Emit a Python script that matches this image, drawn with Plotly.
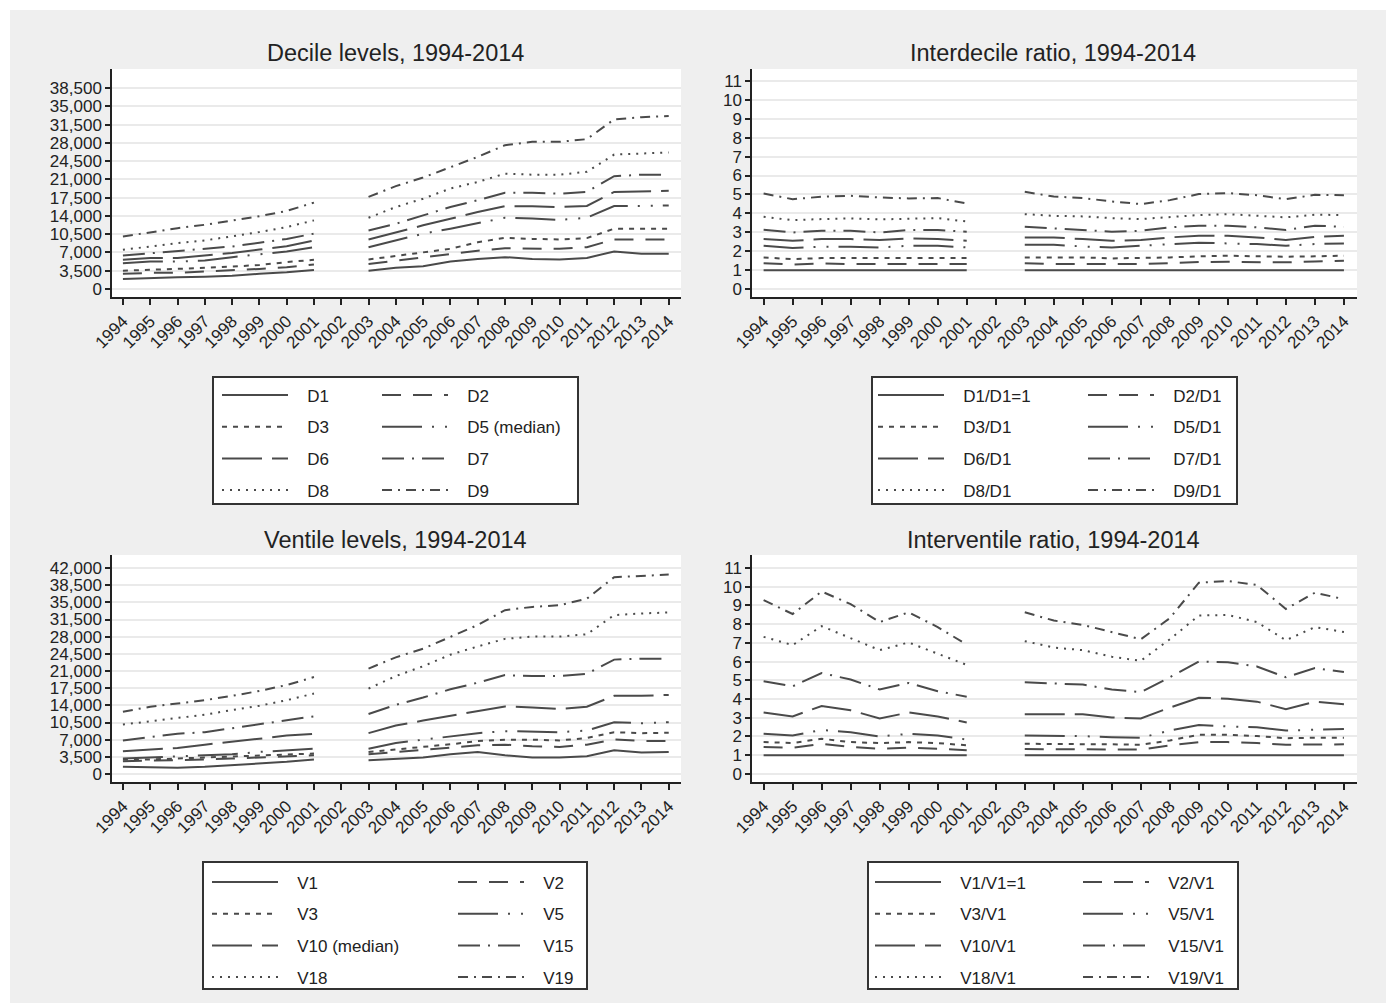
import plotly.graph_objects as go

W, H = 1391, 1003

years = list(range(1994, 2015))

# ---- Decile levels (None = 2002, no data) ----
D1 = [1900, 2100, 2250, 2350, 2550, 2900, 3200, 3650, None, 3500, 4050, 4350, 5250, 5750, 6100, 5750, 5650, 5950, 7200, 6750, 6750]
D2 = [2900, 3100, 3100, 3350, 3500, 3850, 4150, 4700, None, 4800, 5450, 6100, 6750, 7350, 7800, 7800, 7700, 8000, 9500, 9500, 9500]
D3 = [3500, 3650, 3800, 4050, 4300, 4600, 5150, 5600, None, 5650, 6300, 7050, 7700, 8950, 9800, 9600, 9500, 9750, 11550, 11550, 11550]
D5 = [4950, 5250, 5250, 5450, 6100, 6600, 7200, 8000, None, 8000, 9300, 10600, 11550, 12650, 13650, 13500, 13250, 13650, 15900, 15900, 16000]
D6 = [5600, 5950, 5950, 6400, 6900, 7550, 8200, 9300, None, 9500, 10900, 12200, 13450, 14750, 15850, 15850, 15700, 15900, 18600, 18700, 18800]
D7 = [6400, 6850, 7250, 7650, 8150, 8850, 9600, 10600, None, 11200, 12500, 14100, 15700, 17000, 18450, 18450, 18250, 18600, 21600, 21900, 21900]
D8 = [7500, 8150, 8800, 9300, 10050, 10900, 11850, 13150, None, 13650, 15700, 17300, 19250, 20500, 22100, 21900, 21900, 22450, 25750, 25950, 26150]
D9 = [10050, 10900, 11650, 12300, 13100, 13950, 14950, 16550, None, 17650, 19700, 21350, 23250, 25300, 27550, 28200, 28200, 28700, 32500, 32900, 33150]

# ---- Interdecile ratios ----
R1 = [1, 1, 1, 1, 1, 1, 1, 1, None, 1, 1, 1, 1, 1, 1, 1, 1, 1, 1, 1, 1]
R2 = [1.37, 1.29, 1.36, 1.32, 1.32, 1.32, 1.32, 1.32, None, 1.37, 1.32, 1.32, 1.32, 1.32, 1.37, 1.43, 1.44, 1.43, 1.41, 1.46, 1.50]
R3 = [1.67, 1.58, 1.64, 1.64, 1.62, 1.62, 1.64, 1.64, None, 1.67, 1.67, 1.67, 1.62, 1.64, 1.67, 1.73, 1.76, 1.73, 1.71, 1.73, 1.76]
R5 = [2.29, 2.17, 2.24, 2.24, 2.20, 2.29, 2.29, 2.20, None, 2.34, 2.34, 2.25, 2.20, 2.29, 2.38, 2.45, 2.41, 2.38, 2.29, 2.38, 2.41]
R6 = [2.64, 2.55, 2.64, 2.64, 2.59, 2.68, 2.64, 2.55, None, 2.73, 2.73, 2.64, 2.55, 2.59, 2.73, 2.82, 2.82, 2.73, 2.59, 2.76, 2.82]
R7 = [3.13, 2.99, 3.08, 3.08, 2.99, 3.12, 3.12, 3.03, None, 3.29, 3.20, 3.12, 3.03, 3.08, 3.26, 3.35, 3.35, 3.26, 3.12, 3.35, 3.29]
R8 = [3.82, 3.64, 3.70, 3.73, 3.68, 3.73, 3.75, 3.57, None, 3.96, 3.87, 3.84, 3.75, 3.70, 3.79, 3.91, 3.96, 3.87, 3.79, 3.93, 3.91]
R9 = [5.05, 4.75, 4.88, 4.93, 4.84, 4.79, 4.81, 4.52, None, 5.14, 4.89, 4.81, 4.63, 4.49, 4.70, 5.02, 5.07, 4.96, 4.75, 4.98, 4.96]

# ---- Ventile levels ----
V1 = [1480, 1340, 1280, 1480, 1810, 2150, 2490, 2960, None, 2820, 3160, 3360, 4030, 4500, 3830, 3360, 3360, 3630, 4840, 4370, 4500]
V2 = [2620, 2690, 2820, 2960, 3160, 3360, 3490, 3830, None, 4030, 4500, 4970, 5380, 5850, 5980, 5650, 5510, 5980, 7060, 6720, 6720]
V3 = [2960, 2960, 3160, 3360, 3490, 3630, 3830, 4170, None, 4500, 4970, 5510, 6050, 6720, 6990, 6990, 6850, 7330, 8530, 8330, 8400]
V5 = [3160, 3360, 3490, 3830, 4030, 4500, 4840, 5170, None, 5170, 6320, 6990, 7660, 8330, 8740, 8670, 8530, 8870, 10550, 10350, 10550]
V10 = [4640, 4970, 5310, 5980, 6520, 7190, 7860, 8200, None, 8330, 9880, 10890, 11890, 12900, 13780, 13570, 13240, 13710, 15930, 15930, 16130]
V15 = [6850, 7530, 8200, 8530, 9340, 10080, 10890, 11760, None, 12230, 14110, 15590, 17270, 18610, 20160, 19960, 19960, 20430, 23320, 23520, 23520]
V18 = [10080, 10750, 11360, 12100, 13040, 13910, 15050, 16400, None, 17410, 19960, 21970, 24330, 26010, 27550, 28020, 28020, 28490, 32390, 32730, 32930]
V19 = [12700, 13710, 14380, 15050, 15930, 16930, 18140, 19760, None, 21500, 23790, 25540, 28020, 30370, 33400, 34070, 34410, 35750, 40120, 40450, 40660]

# ---- Interventile ratios ----
W1 = [1, 1, 1, 1, 1, 1, 1, 1, None, 1, 1, 1, 1, 1, 1, 1, 1, 1, 1, 1, 1]
W2 = [1.44, 1.40, 1.61, 1.44, 1.35, 1.40, 1.35, 1.26, None, 1.33, 1.33, 1.33, 1.30, 1.30, 1.53, 1.70, 1.70, 1.65, 1.56, 1.58, 1.58]
W3 = [1.70, 1.65, 1.88, 1.70, 1.65, 1.70, 1.65, 1.53, None, 1.61, 1.61, 1.61, 1.58, 1.56, 1.79, 2.09, 2.09, 2.02, 1.91, 1.93, 1.93]
W5 = [2.14, 2.05, 2.35, 2.23, 2.00, 2.14, 2.05, 1.84, None, 2.05, 2.05, 2.02, 1.96, 1.93, 2.32, 2.61, 2.54, 2.49, 2.32, 2.37, 2.40]
W10 = [3.28, 3.07, 3.63, 3.40, 2.96, 3.28, 3.07, 2.75, None, 3.19, 3.19, 3.19, 3.02, 2.96, 3.54, 4.07, 4.02, 3.86, 3.46, 3.86, 3.72]
W15 = [4.95, 4.68, 5.39, 5.04, 4.51, 4.86, 4.42, 4.12, None, 4.89, 4.81, 4.77, 4.51, 4.37, 5.16, 6.00, 5.96, 5.74, 5.16, 5.65, 5.44]
W18 = [7.32, 6.88, 7.89, 7.23, 6.61, 7.02, 6.44, 5.82, None, 7.09, 6.75, 6.61, 6.26, 6.04, 7.19, 8.46, 8.49, 8.11, 7.14, 7.84, 7.58]
W19 = [9.28, 8.54, 9.74, 9.07, 8.11, 8.63, 7.84, 6.91, None, 8.63, 8.19, 7.96, 7.58, 7.19, 8.32, 10.21, 10.30, 10.09, 8.81, 9.68, 9.33]

# ---- labels ----
titles = ["Decile levels, 1994-2014", "Interdecile ratio, 1994-2014",
          "Ventile levels, 1994-2014", "Interventile ratio, 1994-2014"]
names_dec = ["D1", "D2", "D3", "D5 (median)", "D6", "D7", "D8", "D9"]
names_idr = ["D1/D1=1", "D2/D1", "D3/D1", "D5/D1", "D6/D1", "D7/D1", "D8/D1", "D9/D1"]
names_ven = ["V1", "V2", "V3", "V5", "V10 (median)", "V15", "V18", "V19"]
names_ivr = ["V1/V1=1", "V2/V1", "V3/V1", "V5/V1", "V10/V1", "V15/V1", "V18/V1", "V19/V1"]
level_ticks = [0, 3500, 7000, 10500, 14000, 17500, 21000, 24500, 28000, 31500, 35000, 38500, 42000]
ratio_ticks = list(range(0, 12))

panels = [
    dict(series=[D1, D2, D3, D5, D6, D7, D8, D9], names=names_dec, ticks=level_ticks[:-1],
         px=(112, 681), py=(69, 297), yr=(-1530, 42140), title_c=(395, 53),
         box=(213, 578, 377, 504), cols=(222, 382), row1=395),
    dict(series=[R1, R2, R3, R5, R6, R7, R8, R9], names=names_idr, ticks=ratio_ticks,
         px=(752, 1357), py=(69, 297), yr=(-0.42, 11.63), title_c=(1053, 53),
         box=(872, 1237, 377, 504), cols=(878, 1088), row1=395),
    dict(series=[V1, V2, V3, V5, V10, V15, V18, V19], names=names_ven, ticks=level_ticks,
         px=(112, 681), py=(555, 782), yr=(-1630, 44650), title_c=(395, 540),
         box=(203, 587, 862, 989), cols=(212, 458), row1=882),
    dict(series=[W1, W2, W3, W5, W10, W15, W18, W19], names=names_ivr, ticks=ratio_ticks,
         px=(752, 1357), py=(555, 782), yr=(-0.43, 11.69), title_c=(1053, 540),
         box=(868, 1238, 862, 989), cols=(875, 1083), row1=882),
]

dashes = ["solid", "19px,12px", "5px,6px", "40px,10px,2px,11px,2px,10px",
          "40px,10px", "22px,8px,2px,8px", "2px,6px", "10px,6px,2px,6px"]

FONT = "Liberation Sans, Arial, Helvetica, sans-serif"
TXT = "#222222"
LINE = "#4a4a4a"
LEG_FS = 17
ROW_H = LEG_FS * 1.3 + 3
PAD = "\u00a0\u00a0\u00a0"  # visual gap between line sample and label

fig = go.Figure()
layout = dict(
    width=W, height=H, margin=dict(l=0, r=0, t=0, b=0, pad=0, autoexpand=False), autosize=False,
    paper_bgcolor="#efefef", plot_bgcolor="white",
    font=dict(family=FONT, color=TXT, size=17),
    shapes=[], annotations=[],
)

# white page border (top, left, right strips)
layout["shapes"] += [
    dict(type="rect", xref="paper", yref="paper", x0=0, x1=1, y0=1 - 10 / H, y1=1,
         fillcolor="white", line=dict(width=0), layer="below"),
    dict(type="rect", xref="paper", yref="paper", x0=0, x1=10 / W, y0=0, y1=1,
         fillcolor="white", line=dict(width=0), layer="below"),
    dict(type="rect", xref="paper", yref="paper", x0=1386 / W, x1=1, y0=0, y1=1,
         fillcolor="white", line=dict(width=0), layer="below"),
]

for p, pan in enumerate(panels):
    ax = "" if p == 0 else str(p + 1)
    xa, ya = "xaxis" + ax, "yaxis" + ax
    x0, x1 = pan["px"]
    y0, y1 = pan["py"]
    is_level = pan["ticks"][-1] > 100
    layout[xa] = dict(
        domain=[x0 / W, x1 / W], anchor="y" + ax, range=[1993.6, 2014.45], automargin=False,
        tickmode="array", tickvals=years, ticktext=[str(y) for y in years], tickangle=-45,
        showgrid=False, zeroline=False, showline=True, linecolor="#222", linewidth=1.5,
        ticks="outside", ticklen=6, tickwidth=1.5, tickcolor="#222",
        tickfont=dict(size=17, color=TXT, family=FONT),
    )
    layout[ya] = dict(
        domain=[1 - y1 / H, 1 - y0 / H], anchor="x" + ax, range=list(pan["yr"]), automargin=False,
        tickmode="array", tickvals=pan["ticks"], tickformat=",d" if is_level else "d",
        showgrid=True, gridcolor="#eaeaea", gridwidth=2, zeroline=False,
        showline=True, linecolor="#222", linewidth=1.5,
        ticks="outside", ticklen=5, tickwidth=1.5, tickcolor="#222",
        tickfont=dict(size=17, color=TXT, family=FONT),
    )
    # panel title
    tx, ty = pan["title_c"]
    layout["annotations"].append(dict(
        text=titles[p], xref="paper", yref="paper", x=tx / W, y=1 - ty / H,
        xanchor="center", yanchor="middle", showarrow=False,
        font=dict(size=23.5, color=TXT, family=FONT)))
    # legend frame
    bx0, bx1, by0, by1 = pan["box"]
    layout["shapes"].append(dict(
        type="rect", xref="paper", yref="paper", x0=bx0 / W, x1=bx1 / W,
        y0=1 - by1 / H, y1=1 - by0 / H, fillcolor="white",
        line=dict(color="#333", width=2), layer="below"))
    # two legend columns per panel
    for c in range(2):
        lname = "legend" + ("" if (2 * p + c) == 0 else str(2 * p + c + 1))
        layout[lname] = dict(
            x=(pan["cols"][c] - 5) / W, y=1 - (pan["row1"] - 5 - ROW_H / 2) / H,
            xanchor="left", yanchor="top", orientation="v",
            bgcolor="rgba(0,0,0,0)", borderwidth=0, itemwidth=66,
            tracegroupgap=31.7 - ROW_H, traceorder="grouped",
            font=dict(size=LEG_FS, color=TXT, family=FONT),
        )
    for i, (vals, nm) in enumerate(zip(pan["series"], pan["names"])):
        c = i % 2
        lname = "legend" + ("" if (2 * p + c) == 0 else str(2 * p + c + 1))
        fig.add_trace(go.Scatter(
            x=years, y=vals, mode="lines", name=PAD + nm, connectgaps=False,
            xaxis="x" + ax, yaxis="y" + ax, legend=lname,
            legendgroup=f"p{p}s{i}",
            line=dict(color=LINE, width=2, dash=dashes[i]),
            hoverinfo="skip",
        ))

fig.update_layout(**layout)
fig.write_html("out.html", config={"displayModeBar": False},
               post_script="document.body.style.margin='0px';document.body.style.overflow='hidden';")
